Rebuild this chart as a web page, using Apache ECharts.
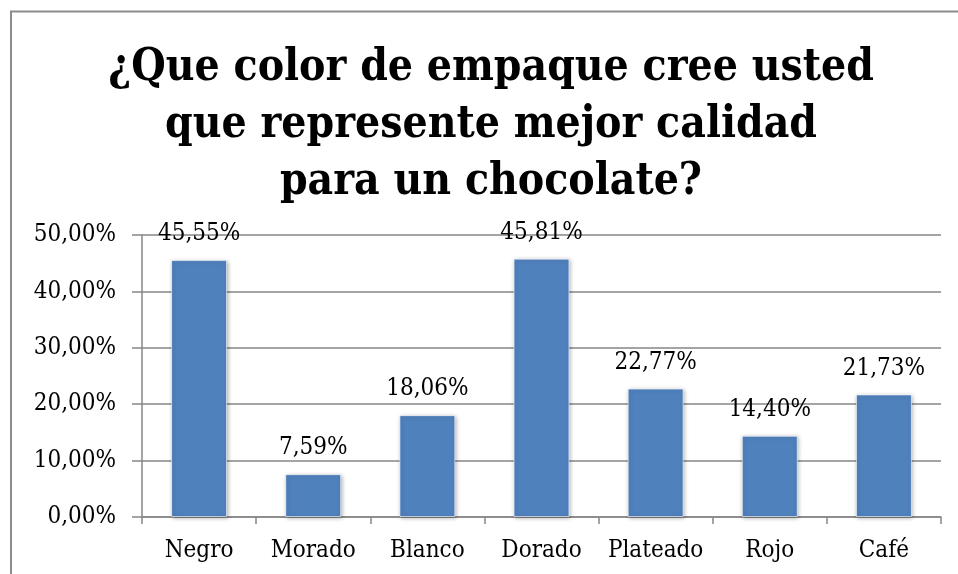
<!DOCTYPE html>
<html>
<head>
<meta charset="utf-8">
<script src="https://cdn.jsdelivr.net/npm/echarts@6/dist/echarts.min.js"></script>
<style>
  html, body { margin: 0; padding: 0; background: #fff; }
  #chart { width: 958px; height: 574px; }
</style>
</head>
<body>
<div id="chart"></div>
<script>
// Survey: which packaging colour suggests a better-quality chocolate
const categories = ['Negro', 'Morado', 'Blanco', 'Dorado', 'Plateado', 'Rojo', 'Café'];
const shares = [45.55, 7.59, 18.06, 45.81, 22.77, 14.40, 21.73];
const yTicks = [0, 10, 20, 30, 40, 50];
const titleLines = ['¿Que color de empaque cree usted', 'que represente mejor calidad', 'para un chocolate?'];

const serif = '"DejaVu Serif Condensed", "DejaVu Serif", serif';
const pct = v => v.toFixed(2).replace('.', ',') + '%';

const chart = echarts.init(document.getElementById('chart'));
chart.setOption({
  animation: false,
  backgroundColor: '#fff',
  graphic: [{
    // chart frame: left and top edges only, the rest runs off the canvas
    type: 'polyline',
    shape: { points: [[11, 600], [11, 11.5], [960, 11.5]] },
    style: { fill: 'none', stroke: '#8c8c8c', lineWidth: 2 },
    z: -1
  }],
  title: {
    text: titleLines.join('\n'),
    left: 486,
    textAlign: 'center',
    top: 35,
    textStyle: {
      fontFamily: serif,
      fontWeight: 'bold',
      fontSize: 44,
      lineHeight: 57,
      color: '#000'
    }
  },
  grid: { left: 142, right: 17, top: 235, bottom: 57 },
  xAxis: {
    type: 'category',
    data: categories,
    axisLine: { lineStyle: { color: '#868686', width: 1.5 } },
    axisTick: { show: true, interval: 0, length: 7, lineStyle: { color: '#868686', width: 1.5 } },
    axisLabel: { interval: 0, hideOverlap: false, fontFamily: serif, fontSize: 24, color: '#000', margin: 22 }
  },
  yAxis: {
    type: 'value',
    min: 0,
    max: 50,
    interval: 10,
    axisLine: { show: true, lineStyle: { color: '#868686', width: 1.5 } },
    axisTick: { show: true, length: 10, lineStyle: { color: '#868686', width: 1.5 } },
    splitLine: { lineStyle: { color: '#868686', width: 1.5 } },
    axisLabel: {
      fontFamily: serif, fontSize: 24, color: '#000', margin: 26,
      formatter: v => yTicks.includes(v) ? pct(v) : ''
    }
  },
  series: [{
    type: 'bar',
    data: shares,
    barWidth: '49%',
    itemStyle: {
      color: '#4F81BD',
      borderColor: 'rgba(255,255,255,0.6)',
      borderWidth: 1,
      shadowColor: 'rgba(0,0,0,0.3)',
      shadowBlur: 4,
      shadowOffsetX: 1,
      shadowOffsetY: 1
    },
    label: {
      show: true,
      position: 'top',
      distance: 14,
      fontFamily: serif,
      fontSize: 24,
      color: '#000',
      formatter: p => pct(p.value)
    }
  }]
});
</script>
</body>
</html>
